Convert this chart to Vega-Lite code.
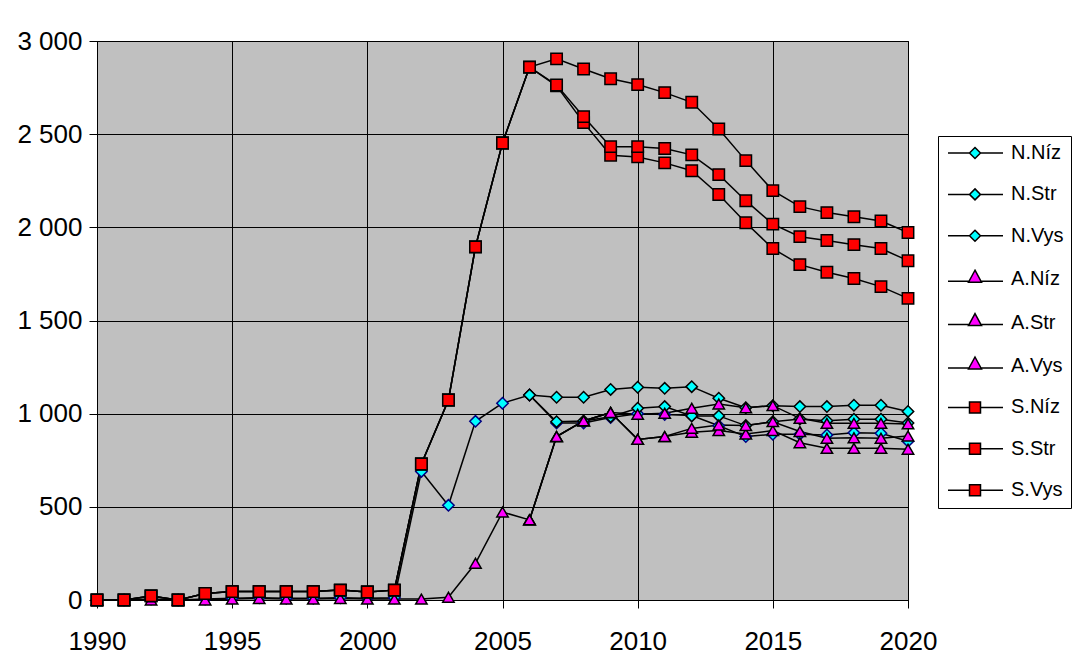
{
  "$schema": "https://vega.github.io/schema/vega-lite/v6.json",
  "width": 811,
  "height": 559,
  "autosize": {"type": "none"},
  "padding": {"left": 97, "top": 41, "right": 172, "bottom": 61},
  "background": "white",
  "config": {
    "view": {"fill": "#C0C0C0", "stroke": "black", "strokeWidth": 1},
    "font": "Liberation Sans",
    "axis": {
      "labelFont": "Liberation Sans",
      "labelFontSize": 26,
      "labelColor": "black",
      "domainColor": "black",
      "domainWidth": 1,
      "tickColor": "black",
      "tickSize": 8,
      "gridColor": "black",
      "gridOpacity": 1,
      "gridWidth": 1,
      "title": null
    }
  },
  "data": {
    "values": [
      {"year": 1990, "series": "N.Níz", "value": 0},
      {"year": 1991, "series": "N.Níz", "value": 0},
      {"year": 1992, "series": "N.Níz", "value": 5},
      {"year": 1993, "series": "N.Níz", "value": 0},
      {"year": 1994, "series": "N.Níz", "value": 5},
      {"year": 1995, "series": "N.Níz", "value": 10},
      {"year": 1996, "series": "N.Níz", "value": 12},
      {"year": 1997, "series": "N.Níz", "value": 10},
      {"year": 1998, "series": "N.Níz", "value": 10},
      {"year": 1999, "series": "N.Níz", "value": 12},
      {"year": 2000, "series": "N.Níz", "value": 10},
      {"year": 2001, "series": "N.Níz", "value": 12},
      {"year": 2002, "series": "N.Níz", "value": 690},
      {"year": 2003, "series": "N.Níz", "value": 508},
      {"year": 2004, "series": "N.Níz", "value": 959},
      {"year": 2005, "series": "N.Níz", "value": 1056},
      {"year": 2006, "series": "N.Níz", "value": 1100},
      {"year": 2007, "series": "N.Níz", "value": 950},
      {"year": 2008, "series": "N.Níz", "value": 950},
      {"year": 2009, "series": "N.Níz", "value": 980},
      {"year": 2010, "series": "N.Níz", "value": 1000},
      {"year": 2011, "series": "N.Níz", "value": 995},
      {"year": 2012, "series": "N.Níz", "value": 990},
      {"year": 2013, "series": "N.Níz", "value": 935},
      {"year": 2014, "series": "N.Níz", "value": 877},
      {"year": 2015, "series": "N.Níz", "value": 889},
      {"year": 2016, "series": "N.Níz", "value": 890},
      {"year": 2017, "series": "N.Níz", "value": 886},
      {"year": 2018, "series": "N.Níz", "value": 898},
      {"year": 2019, "series": "N.Níz", "value": 895},
      {"year": 2020, "series": "N.Níz", "value": 852},

      {"year": 2006, "series": "N.Str", "value": 1100},
      {"year": 2007, "series": "N.Str", "value": 957},
      {"year": 2008, "series": "N.Str", "value": 961},
      {"year": 2009, "series": "N.Str", "value": 984},
      {"year": 2010, "series": "N.Str", "value": 1029},
      {"year": 2011, "series": "N.Str", "value": 1038},
      {"year": 2012, "series": "N.Str", "value": 988},
      {"year": 2013, "series": "N.Str", "value": 988},
      {"year": 2014, "series": "N.Str", "value": 936},
      {"year": 2015, "series": "N.Str", "value": 957},
      {"year": 2016, "series": "N.Str", "value": 972},
      {"year": 2017, "series": "N.Str", "value": 962},
      {"year": 2018, "series": "N.Str", "value": 970},
      {"year": 2019, "series": "N.Str", "value": 970},
      {"year": 2020, "series": "N.Str", "value": 950},

      {"year": 2006, "series": "N.Vys", "value": 1100},
      {"year": 2007, "series": "N.Vys", "value": 1088},
      {"year": 2008, "series": "N.Vys", "value": 1088},
      {"year": 2009, "series": "N.Vys", "value": 1130},
      {"year": 2010, "series": "N.Vys", "value": 1142},
      {"year": 2011, "series": "N.Vys", "value": 1136},
      {"year": 2012, "series": "N.Vys", "value": 1145},
      {"year": 2013, "series": "N.Vys", "value": 1083},
      {"year": 2014, "series": "N.Vys", "value": 1032},
      {"year": 2015, "series": "N.Vys", "value": 1043},
      {"year": 2016, "series": "N.Vys", "value": 1038},
      {"year": 2017, "series": "N.Vys", "value": 1038},
      {"year": 2018, "series": "N.Vys", "value": 1045},
      {"year": 2019, "series": "N.Vys", "value": 1045},
      {"year": 2020, "series": "N.Vys", "value": 1012},

      {"year": 1990, "series": "A.Níz", "value": 0},
      {"year": 1991, "series": "A.Níz", "value": 0},
      {"year": 1992, "series": "A.Níz", "value": 0},
      {"year": 1993, "series": "A.Níz", "value": 0},
      {"year": 1994, "series": "A.Níz", "value": 0},
      {"year": 1995, "series": "A.Níz", "value": 5},
      {"year": 1996, "series": "A.Níz", "value": 8},
      {"year": 1997, "series": "A.Níz", "value": 5},
      {"year": 1998, "series": "A.Níz", "value": 5},
      {"year": 1999, "series": "A.Níz", "value": 8},
      {"year": 2000, "series": "A.Níz", "value": 5},
      {"year": 2001, "series": "A.Níz", "value": 5},
      {"year": 2002, "series": "A.Níz", "value": 5},
      {"year": 2003, "series": "A.Níz", "value": 15},
      {"year": 2004, "series": "A.Níz", "value": 197},
      {"year": 2005, "series": "A.Níz", "value": 472},
      {"year": 2006, "series": "A.Níz", "value": 430},
      {"year": 2007, "series": "A.Níz", "value": 877},
      {"year": 2008, "series": "A.Níz", "value": 961},
      {"year": 2009, "series": "A.Níz", "value": 1006},
      {"year": 2010, "series": "A.Níz", "value": 862},
      {"year": 2011, "series": "A.Níz", "value": 877},
      {"year": 2012, "series": "A.Níz", "value": 900},
      {"year": 2013, "series": "A.Níz", "value": 909},
      {"year": 2014, "series": "A.Níz", "value": 891},
      {"year": 2015, "series": "A.Níz", "value": 909},
      {"year": 2016, "series": "A.Níz", "value": 844},
      {"year": 2017, "series": "A.Níz", "value": 814},
      {"year": 2018, "series": "A.Níz", "value": 814},
      {"year": 2019, "series": "A.Níz", "value": 814},
      {"year": 2020, "series": "A.Níz", "value": 809},

      {"year": 2006, "series": "A.Str", "value": 430},
      {"year": 2007, "series": "A.Str", "value": 877},
      {"year": 2008, "series": "A.Str", "value": 961},
      {"year": 2009, "series": "A.Str", "value": 1006},
      {"year": 2010, "series": "A.Str", "value": 862},
      {"year": 2011, "series": "A.Str", "value": 877},
      {"year": 2012, "series": "A.Str", "value": 921},
      {"year": 2013, "series": "A.Str", "value": 939},
      {"year": 2014, "series": "A.Str", "value": 936},
      {"year": 2015, "series": "A.Str", "value": 957},
      {"year": 2016, "series": "A.Str", "value": 904},
      {"year": 2017, "series": "A.Str", "value": 868},
      {"year": 2018, "series": "A.Str", "value": 871},
      {"year": 2019, "series": "A.Str", "value": 868},
      {"year": 2020, "series": "A.Str", "value": 880},

      {"year": 2006, "series": "A.Vys", "value": 430},
      {"year": 2007, "series": "A.Vys", "value": 877},
      {"year": 2008, "series": "A.Vys", "value": 961},
      {"year": 2009, "series": "A.Vys", "value": 1006},
      {"year": 2010, "series": "A.Vys", "value": 997},
      {"year": 2011, "series": "A.Vys", "value": 1002},
      {"year": 2012, "series": "A.Vys", "value": 1029},
      {"year": 2013, "series": "A.Vys", "value": 1052},
      {"year": 2014, "series": "A.Vys", "value": 1032},
      {"year": 2015, "series": "A.Vys", "value": 1043},
      {"year": 2016, "series": "A.Vys", "value": 975},
      {"year": 2017, "series": "A.Vys", "value": 948},
      {"year": 2018, "series": "A.Vys", "value": 948},
      {"year": 2019, "series": "A.Vys", "value": 948},
      {"year": 2020, "series": "A.Vys", "value": 945},

      {"year": 1990, "series": "S.Níz", "value": 0},
      {"year": 1991, "series": "S.Níz", "value": 0},
      {"year": 1992, "series": "S.Níz", "value": 22},
      {"year": 1993, "series": "S.Níz", "value": 0},
      {"year": 1994, "series": "S.Níz", "value": 35},
      {"year": 1995, "series": "S.Níz", "value": 45},
      {"year": 1996, "series": "S.Níz", "value": 45},
      {"year": 1997, "series": "S.Níz", "value": 45},
      {"year": 1998, "series": "S.Níz", "value": 45},
      {"year": 1999, "series": "S.Níz", "value": 53},
      {"year": 2000, "series": "S.Níz", "value": 43},
      {"year": 2001, "series": "S.Níz", "value": 53},
      {"year": 2002, "series": "S.Níz", "value": 730},
      {"year": 2003, "series": "S.Níz", "value": 1073},
      {"year": 2004, "series": "S.Níz", "value": 1895},
      {"year": 2005, "series": "S.Níz", "value": 2453},
      {"year": 2006, "series": "S.Níz", "value": 2860},
      {"year": 2007, "series": "S.Níz", "value": 2759},
      {"year": 2008, "series": "S.Níz", "value": 2562},
      {"year": 2009, "series": "S.Níz", "value": 2387},
      {"year": 2010, "series": "S.Níz", "value": 2378},
      {"year": 2011, "series": "S.Níz", "value": 2346},
      {"year": 2012, "series": "S.Níz", "value": 2304},
      {"year": 2013, "series": "S.Níz", "value": 2176},
      {"year": 2014, "series": "S.Níz", "value": 2025},
      {"year": 2015, "series": "S.Níz", "value": 1886},
      {"year": 2016, "series": "S.Níz", "value": 1800},
      {"year": 2017, "series": "S.Níz", "value": 1759},
      {"year": 2018, "series": "S.Níz", "value": 1725},
      {"year": 2019, "series": "S.Níz", "value": 1682},
      {"year": 2020, "series": "S.Níz", "value": 1619},

      {"year": 1990, "series": "S.Str", "value": 0},
      {"year": 1991, "series": "S.Str", "value": 0},
      {"year": 1992, "series": "S.Str", "value": 22},
      {"year": 1993, "series": "S.Str", "value": 0},
      {"year": 1994, "series": "S.Str", "value": 35},
      {"year": 1995, "series": "S.Str", "value": 45},
      {"year": 1996, "series": "S.Str", "value": 45},
      {"year": 1997, "series": "S.Str", "value": 45},
      {"year": 1998, "series": "S.Str", "value": 45},
      {"year": 1999, "series": "S.Str", "value": 53},
      {"year": 2000, "series": "S.Str", "value": 43},
      {"year": 2001, "series": "S.Str", "value": 53},
      {"year": 2002, "series": "S.Str", "value": 730},
      {"year": 2003, "series": "S.Str", "value": 1073},
      {"year": 2004, "series": "S.Str", "value": 1895},
      {"year": 2005, "series": "S.Str", "value": 2453},
      {"year": 2006, "series": "S.Str", "value": 2860},
      {"year": 2007, "series": "S.Str", "value": 2764},
      {"year": 2008, "series": "S.Str", "value": 2594},
      {"year": 2009, "series": "S.Str", "value": 2433},
      {"year": 2010, "series": "S.Str", "value": 2433},
      {"year": 2011, "series": "S.Str", "value": 2423},
      {"year": 2012, "series": "S.Str", "value": 2389},
      {"year": 2013, "series": "S.Str", "value": 2283},
      {"year": 2014, "series": "S.Str", "value": 2143},
      {"year": 2015, "series": "S.Str", "value": 2017},
      {"year": 2016, "series": "S.Str", "value": 1950},
      {"year": 2017, "series": "S.Str", "value": 1929},
      {"year": 2018, "series": "S.Str", "value": 1907},
      {"year": 2019, "series": "S.Str", "value": 1886},
      {"year": 2020, "series": "S.Str", "value": 1821},

      {"year": 1990, "series": "S.Vys", "value": 0},
      {"year": 1991, "series": "S.Vys", "value": 0},
      {"year": 1992, "series": "S.Vys", "value": 22},
      {"year": 1993, "series": "S.Vys", "value": 0},
      {"year": 1994, "series": "S.Vys", "value": 35},
      {"year": 1995, "series": "S.Vys", "value": 45},
      {"year": 1996, "series": "S.Vys", "value": 45},
      {"year": 1997, "series": "S.Vys", "value": 45},
      {"year": 1998, "series": "S.Vys", "value": 45},
      {"year": 1999, "series": "S.Vys", "value": 53},
      {"year": 2000, "series": "S.Vys", "value": 43},
      {"year": 2001, "series": "S.Vys", "value": 53},
      {"year": 2002, "series": "S.Vys", "value": 730},
      {"year": 2003, "series": "S.Vys", "value": 1073},
      {"year": 2004, "series": "S.Vys", "value": 1895},
      {"year": 2005, "series": "S.Vys", "value": 2453},
      {"year": 2006, "series": "S.Vys", "value": 2860},
      {"year": 2007, "series": "S.Vys", "value": 2904},
      {"year": 2008, "series": "S.Vys", "value": 2850},
      {"year": 2009, "series": "S.Vys", "value": 2797},
      {"year": 2010, "series": "S.Vys", "value": 2766},
      {"year": 2011, "series": "S.Vys", "value": 2723},
      {"year": 2012, "series": "S.Vys", "value": 2671},
      {"year": 2013, "series": "S.Vys", "value": 2528},
      {"year": 2014, "series": "S.Vys", "value": 2358},
      {"year": 2015, "series": "S.Vys", "value": 2197},
      {"year": 2016, "series": "S.Vys", "value": 2111},
      {"year": 2017, "series": "S.Vys", "value": 2079},
      {"year": 2018, "series": "S.Vys", "value": 2057},
      {"year": 2019, "series": "S.Vys", "value": 2034},
      {"year": 2020, "series": "S.Vys", "value": 1972}
    ]
  },
  "encoding": {
    "x": {
      "field": "year",
      "type": "quantitative",
      "scale": {"domain": [1990, 2020], "nice": false, "zero": false},
      "axis": {
        "values": [1990, 1995, 2000, 2005, 2010, 2015, 2020],
        "format": "d",
        "labelPadding": 20,
        "labelFlush": false,
        "labelOverlap": false
      }
    },
    "y": {
      "field": "value",
      "type": "quantitative",
      "scale": {"domain": [0, 3000], "nice": false},
      "axis": {
        "values": [0, 500, 1000, 1500, 2000, 2500, 3000],
        "labelExpr": "replace(format(datum.value, ','), ',', ' ')",
        "labelPadding": 7,
        "labelFlush": false,
        "labelOverlap": false
      }
    }
  },
  "layer": [
    {
      "mark": {"type": "line", "color": "black", "strokeWidth": 1.5, "clip": false},
      "encoding": {"detail": {"field": "series", "type": "nominal"}}
    },
    {
      "mark": {"type": "point", "filled": true, "strokeWidth": 1.5, "opacity": 1, "clip": false},
      "encoding": {
        "fill": {
          "field": "series",
          "type": "nominal",
          "scale": {
            "domain": ["N.Níz", "N.Str", "N.Vys", "A.Níz", "A.Str", "A.Vys", "S.Níz", "S.Str", "S.Vys"],
            "range": ["#00FFFF", "#00FFFF", "#00FFFF", "#FF00FF", "#FF00FF", "#FF00FF", "#FF0000", "#FF0000", "#FF0000"]
          },
          "legend": null
        },
        "shape": {
          "field": "series",
          "type": "nominal",
          "scale": {
            "domain": ["N.Níz", "N.Str", "N.Vys", "A.Níz", "A.Str", "A.Vys", "S.Níz", "S.Str", "S.Vys"],
            "range": ["diamond", "diamond", "diamond", "triangle-up", "triangle-up", "triangle-up", "square", "square", "square"]
          },
          "legend": null
        },
        "size": {
          "field": "series",
          "type": "nominal",
          "scale": {
            "domain": ["N.Níz", "N.Str", "N.Vys", "A.Níz", "A.Str", "A.Vys", "S.Níz", "S.Str", "S.Vys"],
            "range": [130, 130, 130, 165, 165, 165, 110, 110, 110]
          },
          "legend": null
        },
        "stroke": {
          "condition": {"test": "datum.series === 'N.Níz'", "value": "#000080"},
          "value": "black"
        }
      }
    },
    {
      "transform": [{"filter": "false"}],
      "mark": {"type": "point", "filled": true, "stroke": "black", "strokeWidth": 1.5, "size": 100, "opacity": 1},
      "encoding": {
        "fill": {
          "field": "series",
          "type": "nominal",
          "scale": {
            "domain": ["N.Níz", "N.Str", "N.Vys", "A.Níz", "A.Str", "A.Vys", "S.Níz", "S.Str", "S.Vys"],
            "range": ["#00FFFF", "#00FFFF", "#00FFFF", "#FF00FF", "#FF00FF", "#FF00FF", "#FF0000", "#FF0000", "#FF0000"]
          },
          "legend": {
            "title": null,
            "orient": "none",
            "legendX": 841,
            "legendY": 95,
            "direction": "vertical",
            "fillColor": "white",
            "strokeColor": "black",
            "padding": 7,
            "symbolSize": 100,
            "symbolStrokeWidth": 1.5,
            "symbolStrokeColor": "black",
            "symbolOpacity": 1,
            "labelFont": "Liberation Sans",
            "labelFontSize": 20,
            "labelColor": "black",
            "labelOffset": 46,
            "rowPadding": 21.4,
            "labelLimit": 200
          }
        },
        "shape": {
          "field": "series",
          "type": "nominal",
          "scale": {
            "domain": ["N.Níz", "N.Str", "N.Vys", "A.Níz", "A.Str", "A.Vys", "S.Níz", "S.Str", "S.Vys"],
            "range": [
              "M-1.4,0H2.9M5.1,0H9.6M4,-1.1L5.1,0L4,1.1L2.9,0Z",
              "M-1.4,0H2.9M5.1,0H9.6M4,-1.1L5.1,0L4,1.1L2.9,0Z",
              "M-1.4,0H2.9M5.1,0H9.6M4,-1.1L5.1,0L4,1.1L2.9,0Z",
              "M-1.4,0.4H2.81M5.19,0.4H9.6M4,-1.8L5.3,0.6L2.7,0.6Z",
              "M-1.4,0.4H2.81M5.19,0.4H9.6M4,-1.8L5.3,0.6L2.7,0.6Z",
              "M-1.4,0.4H2.81M5.19,0.4H9.6M4,-1.8L5.3,0.6L2.7,0.6Z",
              "M-1.4,0H2.9M5.1,0H9.6M2.9,-1.1H5.1V1.1H2.9Z",
              "M-1.4,0H2.9M5.1,0H9.6M2.9,-1.1H5.1V1.1H2.9Z",
              "M-1.4,0H2.9M5.1,0H9.6M2.9,-1.1H5.1V1.1H2.9Z"
            ]
          }
        }
      }
    }
  ],
  "resolve": {"scale": {"fill": "independent", "shape": "independent"}}
}
